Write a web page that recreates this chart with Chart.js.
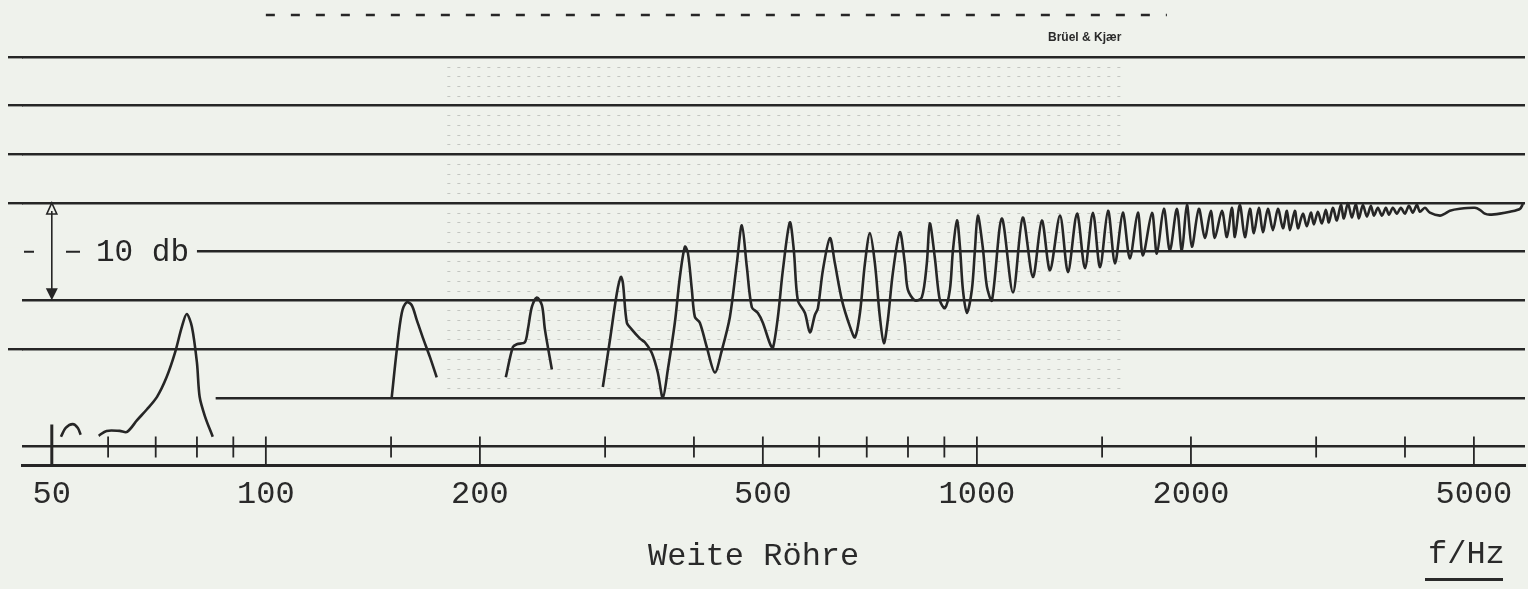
<!DOCTYPE html>
<html lang="de">
<head>
<meta charset="utf-8">
<title>Weite Röhre</title>
<script src="https://cdn.jsdelivr.net/npm/chart.js@4.4.1/dist/chart.umd.min.js"></script>
<style>
  html, body { margin: 0; padding: 0; background: #eff2ec; }
  #wrap { position: relative; width: 1528px; height: 589px; overflow: hidden; }
  #kurve { position: absolute; left: 0; top: 0; }
  .txt { position: absolute; font-family: "Liberation Mono", "DejaVu Sans Mono", monospace; color: #2a2a2a; white-space: nowrap; line-height: 1; }
  #titel { left: 648px; top: 541px; font-size: 32px; }
  #einheit { left: 1428px; top: 539px; font-size: 32px; }
  #strich { position: absolute; left: 1425px; top: 578px; width: 78px; height: 3px; background: #2a2a2a; }
  #marke { left: 1048px; top: 30px; font: bold 12px "Liberation Sans", Arial, sans-serif; }
</style>
</head>
<body>
<div id="wrap">
  <canvas id="kurve" width="1528" height="589"></canvas>
  <div class="txt" id="marke">Brüel &amp; Kjær</div>
  <div class="txt" id="titel">Weite Röhre</div>
  <div class="txt" id="einheit">f/Hz</div>
  <div id="strich"></div>
</div>
<script>

const PAPIER = '#eff2ec';
const TINTE = '#262626';
const GITTER_BREITE = 2.4;

// Achsen
const tickLabelsHz = [50, 100, 200, 500, 1000, 2000, 5000];
const minorTicksHz = [60, 70, 80, 90, 150, 300, 400, 600, 700, 800, 900, 1500, 3000, 4000];
const gridDb = [-5, 0, 5, 10, 15, 20, 25, 30, 35];

// Messkurve (null = Lücke im Schrieb)
const freqHz = [
  51.5, 52.3, 53.5, 54.4, 54.9,
  56,
  58.2, 59.7, 62.3, 63.8, 65.9, 68.0, 70.3, 72.5, 74.5, 76.2, 77.4, 78.7, 80.0, 80.7, 82.1, 84.2,
  120,
  150.3, 152.8, 155.3, 157.8, 160.4, 163.0, 166.2, 170.1, 173.9,
  200,
  217.5, 222.5, 225.4, 231.3, 233.6, 236.6, 240.5, 244.5, 246.9, 252.5,
  275,
  297.8, 304.7, 311.6, 315.7, 317.8, 321.9, 327.2, 335.7, 341.2, 349.0, 355.8, 361.7,
  367.6, 376.0, 382.2, 388.4, 392.2, 397.3, 401.2, 407.7, 417.0, 428.0,
  437.9, 449.4, 459.6, 467.2, 474.8, 482.5, 492.0, 500, 511.4, 516.5,
  525.0, 533.5, 545.7, 552.8, 560.0, 573.0, 582.4,
  591.8, 597.6, 607.3, 621.3, 631.4, 646.0, 663.0, 673.7,
  684.7, 695.9, 707.2, 718.7, 730.4, 739.9,
  749.5, 761.7, 779.2, 791.9, 799.6, 817.9,
  836.6, 850.3, 858.6, 872.6, 887.0, 901.6,
  916.3, 925.3, 937.5, 946.6, 955.7, 968.2,
  983.9, 993.5, 1003, 1019, 1033, 1050,
  1084, 1124, 1160, 1199, 1234, 1267, 1309, 1343, 1383, 1419, 1456, 1490, 1529, 1564,
  1604, 1641, 1684, 1712, 1763, 1791, 1832, 1868, 1911, 1942, 1974, 2006,
  2052, 2092, 2133, 2161, 2211, 2247, 2284, 2306, 2343, 2382, 2421, 2452, 2492, 2525,
  2566, 2608, 2651, 2694, 2729, 2756, 2800, 2828, 2874,
  2911, 2949, 2978, 3017, 3056, 3096, 3126, 3167, 3208, 3250, 3282, 3325, 3368, 3412,
  3445, 3490, 3536, 3582, 3617, 3664, 3712, 3760, 3797, 3846, 3896, 3947, 3999, 4051,
  4103, 4157, 4198,
  4267, 4336, 4480, 4553, 4626, 4778, 5016, 5097, 5180, 5264, 5439, 5619, 5804, 5861
];
const levelDb = [
  -4.0, -3.1, -2.7, -3.1, -3.8,
  null,
  -3.9, -3.4, -3.4, -3.5, -2.3, -1.2, 0.1, 2.1, 4.6, 7.3, 8.6, 7.3, 3.6, 0.1, -1.9, -4.0,
  null,
  0.0, 4.9, 8.7, 9.8, 9.5, 8.0, 6.2, 4.2, 2.1,
  null,
  2.1, 5.2, 5.5, 5.7, 7.0, 9.3, 10.3, 9.5, 7.0, 2.9,
  null,
  1.1, 5.9, 10.7, 12.4, 11.8, 7.7, 7.0, 6.1, 5.7, 4.6, 2.6, 0.0,
  2.9, 7.7, 12.4, 15.5, 14.9, 11.1, 8.3, 7.7, 5.2, 2.6,
  4.9, 8.3, 13.8, 17.7, 13.4, 9.3, 8.7, 7.7, 5.6, 5.1,
  8.3, 13.1, 18.0, 15.1, 10.0, 8.7, 6.7,
  8.5, 9.2, 13.1, 16.4, 13.8, 10.0, 7.3, 6.2,
  8.7, 13.8, 16.9, 13.8, 8.3, 5.6,
  8.0, 12.8, 17.0, 13.8, 11.1, 10.0,
  10.3, 13.8, 17.9, 14.4, 10.0, 9.2,
  11.1, 15.1, 18.2, 15.5, 11.1, 8.7,
  11.1, 15.1, 18.7, 15.5, 11.4, 10.0,
  18.4, 10.8, 18.5, 12.4, 18.2, 13.1, 18.7, 12.9, 18.9, 13.3, 19.0, 13.4, 19.2, 13.8,
  19.0, 14.3, 19.0, 14.6, 19.0, 14.8, 19.4, 15.1, 19.4, 15.1, 19.8, 15.5,
  19.4, 16.4, 19.2, 16.4, 19.2, 16.5, 19.5, 16.5, 19.8, 16.5, 19.4, 16.9, 19.5, 17.0,
  19.4, 17.2, 19.4, 17.4, 19.2, 17.2, 19.2, 17.4, 18.9,
  17.6, 19.0, 17.8, 19.1, 17.9, 19.3, 18.0, 19.5, 18.2, 19.8, 18.4, 20.0, 18.5, 19.9,
  18.4, 19.8, 18.6, 19.7, 18.7, 19.5, 18.7, 19.5, 18.8, 19.5, 18.9, 19.5, 18.9, 19.7,
  19.0, 19.8, 19.1,
  19.5, 19.0, 18.7, 18.9, 19.2, 19.4, 19.5, 19.3, 18.9, 18.8, 18.9, 19.1, 19.4, 19.9
];

const MONO = "'Liberation Mono', 'DejaVu Sans Mono', monospace";

/* Papier: feine dB-Linien, Skalenstriche, 10-dB-Marke */
const papier = {
  id: 'papier',
  beforeDatasetsDraw(chart) {
    const { ctx, chartArea: a, scales: { x, y } } = chart;
    ctx.save();

    // feine 1-dB-Linien in der Mitte des Streifens
    ctx.strokeStyle = 'rgba(40,40,40,0.22)';
    ctx.lineWidth = 1;
    ctx.setLineDash([3, 7]);
    for (let db = 1; db < 35; db++) {
      if (db % 5 === 0) continue;
      const py = Math.round(y.getPixelForValue(db)) + 0.5;
      ctx.beginPath();
      ctx.moveTo(x.getPixelForValue(180), py);
      ctx.lineTo(x.getPixelForValue(1600), py);
      ctx.stroke();
    }
    ctx.setLineDash([]);

    // Gitterlinien links etwas verlängert (gleiche Pixelrundung wie Chart.js)
    ctx.strokeStyle = TINTE;
    ctx.lineWidth = GITTER_BREITE;
    const halb = GITTER_BREITE / 2;
    [5, 20, 25, 30, 35].forEach(db => {
      const py = Math.round(y.getPixelForValue(db) - halb) + halb;
      ctx.beginPath(); ctx.moveTo(8, py); ctx.lineTo(a.left + 1, py); ctx.stroke();
    });

    // Lücken in den Gitterlinien (Beschriftung links)
    ctx.fillStyle = PAPIER;
    const y15 = y.getPixelForValue(15), y0 = y.getPixelForValue(0);
    ctx.fillRect(0, y15 - 4, x.getPixelForValue(80), 8);
    ctx.fillRect(0, y0 - 4, x.getPixelForValue(85), 8);

    // gestrichelte Linie oben
    ctx.strokeStyle = TINTE;
    ctx.lineWidth = 2.5;
    ctx.setLineDash([9, 16]);
    const yTop = y.getPixelForValue(39.3);
    ctx.beginPath();
    ctx.moveTo(x.getPixelForValue(100), yTop);
    ctx.lineTo(x.getPixelForValue(1850), yTop);
    ctx.stroke();
    ctx.setLineDash([]);

    // Skalenstriche auf der Frequenzlinie
    const yAchse = y.getPixelForValue(-5);
    ctx.lineWidth = 1.8;
    minorTicksHz.forEach(f => {
      const px = x.getPixelForValue(f);
      ctx.beginPath(); ctx.moveTo(px, yAchse - 10); ctx.lineTo(px, yAchse + 11); ctx.stroke();
    });
    tickLabelsHz.forEach(f => {
      const px = x.getPixelForValue(f);
      ctx.lineWidth = f === 50 ? 3 : 1.8;
      ctx.beginPath(); ctx.moveTo(px, yAchse - (f === 50 ? 22 : 10)); ctx.lineTo(px, a.bottom); ctx.stroke();
    });

    // 10-dB-Marke
    const px50 = x.getPixelForValue(50);
    const y20 = y.getPixelForValue(20), y10 = y.getPixelForValue(10);
    ctx.lineWidth = 1.6;
    ctx.beginPath(); ctx.moveTo(px50, y20 + 8); ctx.lineTo(px50, y10 - 8); ctx.stroke();
    ctx.beginPath(); ctx.moveTo(px50, y20); ctx.lineTo(px50 - 5, y20 + 11); ctx.lineTo(px50 + 5, y20 + 11); ctx.closePath(); ctx.stroke();
    ctx.fillStyle = TINTE;
    ctx.beginPath(); ctx.moveTo(px50, y10); ctx.lineTo(px50 - 6, y10 - 12); ctx.lineTo(px50 + 6, y10 - 12); ctx.closePath(); ctx.fill();
    ctx.lineWidth = 2;
    ctx.beginPath(); ctx.moveTo(24, y15); ctx.lineTo(34, y15); ctx.moveTo(66, y15); ctx.lineTo(80, y15); ctx.stroke();
    ctx.font = `31px ${MONO}`;
    ctx.textBaseline = 'middle';
    ctx.fillText('10 db', 96, y15 + 1);
    ctx.restore();
  }
};

new Chart(document.getElementById('kurve'), {
  type: 'line',
  data: {
    datasets: [{
      data: freqHz.map((f, i) => ({ x: f, y: levelDb[i] })),
      borderColor: TINTE,
      borderWidth: 2.6,
      pointRadius: 0,
      tension: 0.3,
      spanGaps: false,
      fill: false,
    }],
  },
  options: {
    responsive: false,
    animation: false,
    devicePixelRatio: 1,
    layout: { padding: { left: 22, right: 3, top: 12, bottom: 64 } },
    plugins: { legend: { display: false }, tooltip: { enabled: false } },
    scales: {
      x: {
        type: 'logarithmic',
        min: 45.4,
        max: 5900,
        afterBuildTicks: s => { s.ticks = tickLabelsHz.map(v => ({ value: v })); },
        afterFit: s => { s.height = 60; },
        ticks: {
          autoSkip: false, maxRotation: 0, padding: 2,
          color: '#2a2a2a', font: { family: MONO, size: 32 },
          callback: v => String(v),
        },
        grid: { display: false },
        border: { display: true, color: TINTE, width: 3 },
      },
      y: {
        min: -6.9,
        max: 39.6,
        afterBuildTicks: s => { s.ticks = gridDb.map(v => ({ value: v })); },
        afterFit: s => { s.width = 0; },
        ticks: { display: false },
        grid: { color: TINTE, lineWidth: GITTER_BREITE, drawTicks: false },
        border: { display: false },
      },
    },
  },
  plugins: [papier],
});
</script>
</body>
</html>
